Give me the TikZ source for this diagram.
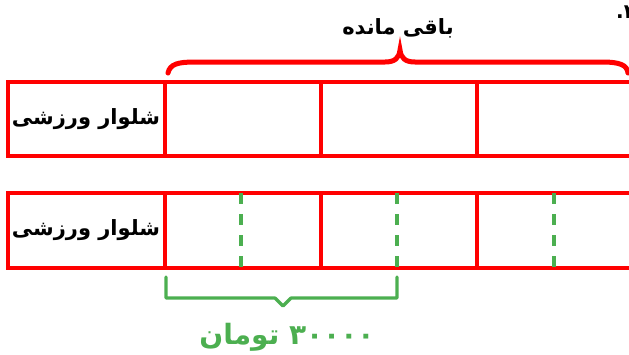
\documentclass[tikz,border=0pt]{standalone}
\usepackage{fontspec}
\newfontfamily\farsi[Script=Arabic]{DejaVu Sans}
\TeXXeTstate=1
\definecolor{barred}{RGB}{255,0,0}
\definecolor{partgreen}{RGB}{76,175,80}
\begin{document}
\begin{tikzpicture}[x=1pt,y=-1pt,
  bar/.style={draw=barred, line width=3.2pt},
  cut/.style={draw=partgreen, line width=3.4pt, dash pattern=on 11pt off 10pt},
  lbl/.style={font=\farsi\bfseries\fontsize{21}{24}\selectfont, inner sep=0pt}
]
\useasboundingbox (0,0) rectangle (629,354);

% first bar
\draw[bar] (640,82) -- (8,82) -- (8,156) -- (640,156);
\foreach \x in {165,321,477}
  \draw[bar] (\x,82) -- (\x,156);
\node[lbl] (item1) at (86,119) {\beginR شلوار ورزشی\endR};

% second bar
\draw[bar] (640,193) -- (8,193) -- (8,268) -- (640,268);
\foreach \x in {165,321,477}
  \draw[bar] (\x,193) -- (\x,268);
\foreach \x in {241,397,554}
  \draw[cut] (\x,193) -- (\x,268);
\node[lbl] (item2) at (86,230) {\beginR شلوار ورزشی\endR};

% remaining brace
\draw[barred, line width=5pt, line cap=round]
  (168,73) .. controls (170,64) and (178,62) .. (195,62) -- (385,62)
  .. controls (395,62) and (399,58) .. (400,50)
  .. controls (401,58) and (405,62) .. (415,62) -- (602,62)
  .. controls (620,62) and (627,65) .. (628,73);
\node[lbl] (rest) at (398,28) {\beginR باقی مانده\endR};

% price brace
\draw[partgreen, line width=3.2pt, line join=round, line cap=round]
  (166,277) -- (166,298) -- (275,298) -- (283,306) -- (291,298) -- (397,298) -- (397,277);
\node[lbl, text=partgreen, font=\farsi\bfseries\fontsize{28}{31}\selectfont] (price) at (287,337)
  {\beginR\beginL ۳۰۰۰۰\endL{} تومان\endR};

% question number
\node[lbl, anchor=west, font=\farsi\bfseries\fontsize{20}{22}\selectfont] (qnum) at (616,12)
  {\beginR\beginL ۲\endL.\endR};
\end{tikzpicture}
\end{document}
